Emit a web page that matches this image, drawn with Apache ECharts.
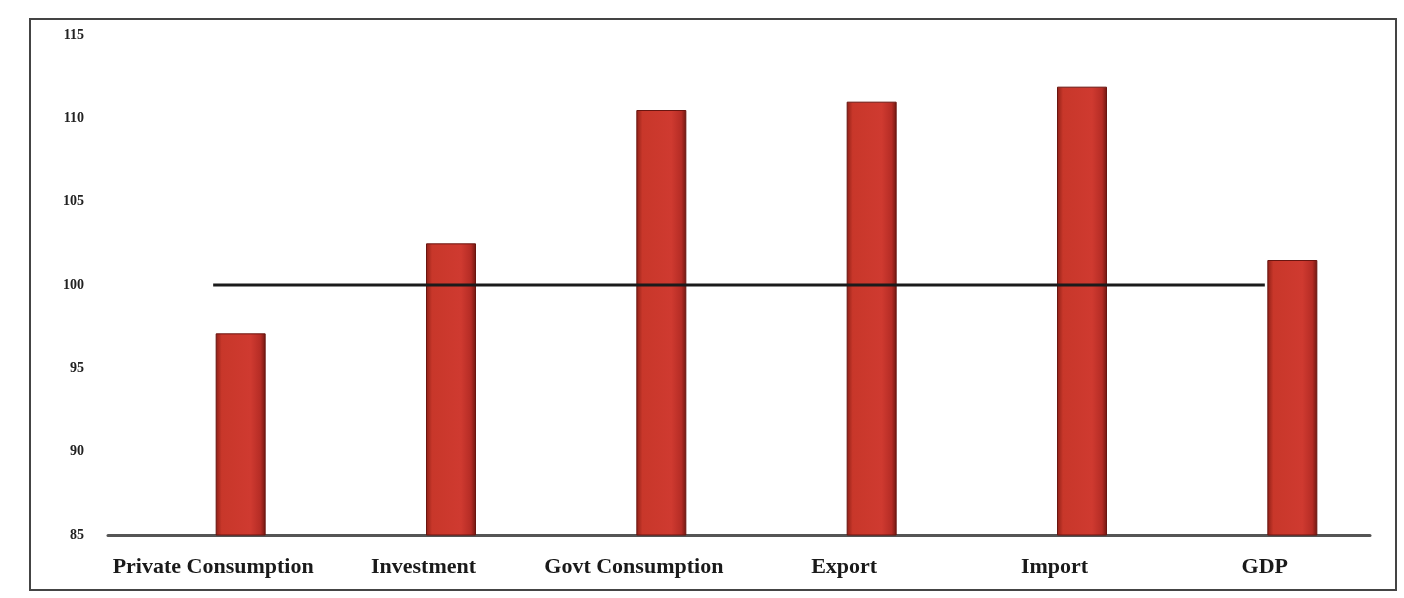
<!DOCTYPE html>
<html>
<head>
<meta charset="utf-8">
<title>Index chart</title>
<script src="https://cdn.jsdelivr.net/npm/echarts@6/dist/echarts.min.js"></script>
<style>
  html, body { margin: 0; padding: 0; background: #fff; }
  #chart { width: 1404px; height: 598px; }
</style>
</head>
<body>
<div id="chart"></div>
<script>
// values
var categories = ["Private Consumption", "Investment", "Govt Consumption", "Export", "Import", "GDP"];
var barValues = [97.1, 102.5, 110.5, 111.0, 111.9, 101.5];
var lineValues = [100, 100, 100, 100, 100, 100];
var yTicks = [85, 90, 95, 100, 105, 110, 115];

var chart = echarts.init(document.getElementById("chart"));
var serif = "'Liberation Serif', 'DejaVu Serif', serif";

chart.setOption({
  animation: false,
  graphic: [
    {
      // frame round the chart
      type: "rect",
      shape: { x: 30, y: 19, width: 1366, height: 571 },
      style: { fill: "none", stroke: "#444", lineWidth: 2 },
      silent: true
    }
  ],
  grid: { left: 108, right: 34, top: 35, bottom: 63 },
  xAxis: {
    type: "category",
    data: categories,
    axisTick: { show: false },
    axisLine: { lineStyle: { color: "#555", width: 3 } },
    axisLabel: {
      margin: 21,
      interval: 0,
      fontFamily: serif,
      fontSize: 22,
      fontWeight: "bold",
      color: "#1a1a1a"
    }
  },
  yAxis: {
    type: "value",
    min: yTicks[0],
    max: yTicks[yTicks.length - 1],
    interval: 5,
    splitLine: { show: false },
    axisLine: { show: false },
    axisTick: { show: false },
    axisLabel: {
      margin: 24,
      fontFamily: serif,
      fontSize: 14,
      fontWeight: "bold",
      color: "#222"
    }
  },
  series: [
    {
      // empty slot so the visible bar sits right of the category centre
      type: "bar",
      data: barValues.map(function () { return null; }),
      barWidth: 50,
      barGap: "10%",
      silent: true
    },
    {
      type: "bar",
      data: barValues,
      barWidth: 50,
      barGap: "10%",
      itemStyle: {
        color: {
          type: "linear", x: 0, y: 0, x2: 1, y2: 0,
          colorStops: [
            { offset: 0, color: "#8e1f16" },
            { offset: 0.12, color: "#c8372a" },
            { offset: 0.7, color: "#cf3a30" },
            { offset: 0.9, color: "#b52c25" },
            { offset: 1, color: "#6e1710" }
          ]
        },
        borderColor: "#6a1510",
        borderWidth: 1
      }
    },
    {
      type: "line",
      data: lineValues,
      symbol: "none",
      lineStyle: { color: "#1b1b1b", width: 3 },
      z: 5
    }
  ]
});
</script>
</body>
</html>
